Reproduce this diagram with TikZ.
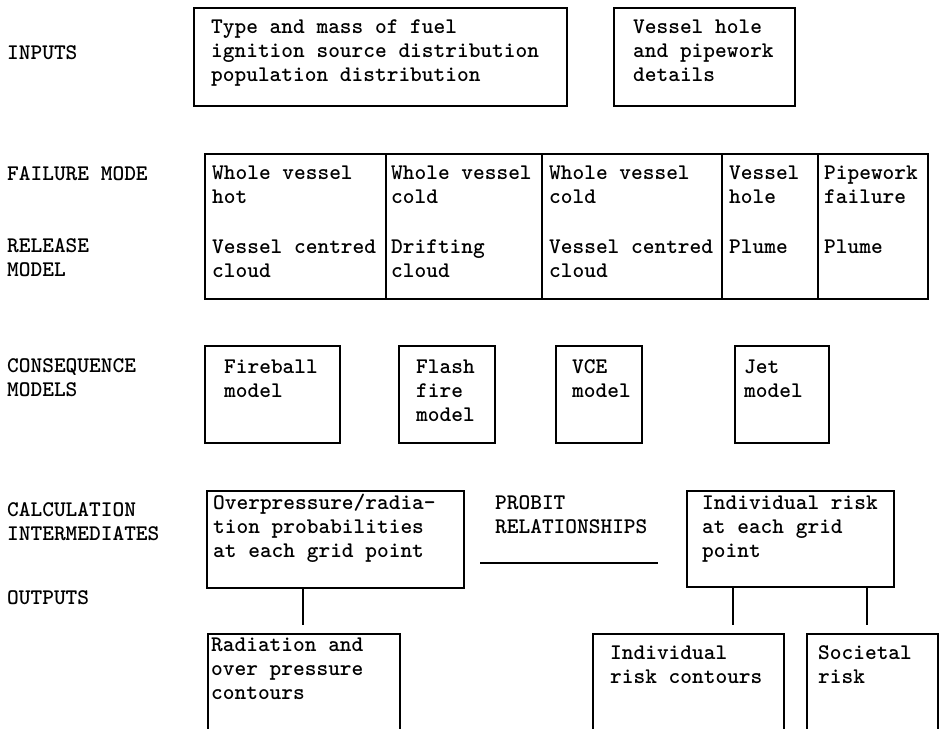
\documentclass[tikz,border=0pt]{standalone}
\newcommand\boxfont{\ttfamily\bfseries\fontsize{22.3}{24}\selectfont}
\tikzset{
  box/.style={draw, line width=1.7pt, anchor=north west, inner sep=0pt},
  txt/.style={font=\boxfont, anchor=north west, inner sep=0pt, align=left},
  conn/.style={line width=1.7pt},
}
\newcommand\tx[4]{\node[txt] (#1) at (#2,#3-17) {\rule{0pt}{17pt}#4};}
\begin{document}
\begin{tikzpicture}[x=1pt,y=-1pt]
\useasboundingbox (0,0) rectangle (939,728);
\clip (0,0) rectangle (939,728);
% row labels
\tx{lInputs}{7}{59}{INPUTS}
\tx{lFail}{7}{180}{FAILURE MODE}
\tx{lRel}{7}{252}{RELEASE\\MODEL}
\tx{lCons}{7}{372}{CONSEQUENCE\\MODELS}
\tx{lCalc}{7}{516}{CALCULATION\\INTERMEDIATES}
\tx{lOut}{7}{604}{OUTPUTS}
% inputs
\node[box, minimum width=373pt, minimum height=98pt] (in1) at (193,7) {};
\node[box, minimum width=181pt, minimum height=98pt] (in2) at (613,7) {};
\tx{tIn1}{211}{33}{Type and mass of fuel\\ignition source distribution\\population distribution}
\tx{tIn2}{633}{33}{Vessel hole\\and pipework\\details}
% failure mode / release model
\node[box, minimum width=723pt, minimum height=145pt] (fm) at (204,153) {};
\draw[conn] ([xshift=182pt]fm.north west) -- ([xshift=182pt]fm.south west);
\draw[conn] ([xshift=338pt]fm.north west) -- ([xshift=338pt]fm.south west);
\draw[conn] ([xshift=518pt]fm.north west) -- ([xshift=518pt]fm.south west);
\draw[conn] ([xshift=614pt]fm.north west) -- ([xshift=614pt]fm.south west);
\tx{f1}{212}{179}{Whole vessel\\hot}
\tx{f2}{391}{179}{Whole vessel\\cold}
\tx{f3}{549}{179}{Whole vessel\\cold}
\tx{f4}{729}{179}{Vessel\\hole}
\tx{f5}{824}{179}{Pipework\\failure}
\tx{r1}{212}{253}{Vessel centred\\cloud}
\tx{r2}{391}{253}{Drifting\\cloud}
\tx{r3}{549}{253}{Vessel centred\\cloud}
\tx{r4}{729}{253}{Plume}
\tx{r5}{824}{253}{Plume}
% consequence models
\node[box, minimum width=135pt, minimum height=97pt] (cFire) at (204,345) {};
\node[box, minimum width=96pt, minimum height=97pt] (cFlash) at (398,345) {};
\node[box, minimum width=86pt, minimum height=97pt] (cVce) at (555,345) {};
\node[box, minimum width=94pt, minimum height=97pt] (cJet) at (734,345) {};
\tx{tFire}{224}{373}{Fireball\\model}
\tx{tFlash}{416}{373}{Flash\\fire\\model}
\tx{tVce}{572}{373}{VCE\\model}
\tx{tJet}{744}{373}{Jet\\model}
% calculation intermediates
\node[box, minimum width=257pt, minimum height=97pt] (calc) at (206,490) {};
\node[box, minimum width=207pt, minimum height=96pt] (indiv) at (686,490) {};
\tx{tCalc}{213}{509}{Overpressure/radia-\\tion probabilities\\at each grid point}
\tx{tProbit}{495}{509}{PROBIT\\RELATIONSHIPS}
\coordinate (ulA) at (480,563);
\coordinate (ulB) at (658,563);
\draw[conn] (ulA) -- (ulB);
\tx{tIndiv}{702}{509}{Individual risk\\at each grid\\point}
% outputs
\node[box, minimum width=192pt, minimum height=120pt] (oRad) at (207,633) {};
\node[box, minimum width=191pt, minimum height=120pt] (oInd) at (592,633) {};
\node[box, minimum width=131pt, minimum height=120pt] (oSoc) at (806,633) {};
\tx{tRad}{211}{651}{Radiation and\\over pressure\\contours}
\tx{tInd}{610}{659}{Individual\\risk contours}
\tx{tSoc}{818}{659}{Societal\\risk}
% connectors
\coordinate (k0) at ([xshift=97pt]calc.south west);
\coordinate (k1) at ([xshift=47pt]indiv.south west);
\coordinate (k2) at ([xshift=181pt]indiv.south west);
\draw[conn, shorten >=8pt] (k0) -- (k0 |- oRad.north);
\draw[conn, shorten >=8pt] (k1) -- (k1 |- oInd.north);
\draw[conn, shorten >=8pt] (k2) -- (k2 |- oSoc.north);
\end{tikzpicture}
\end{document}
